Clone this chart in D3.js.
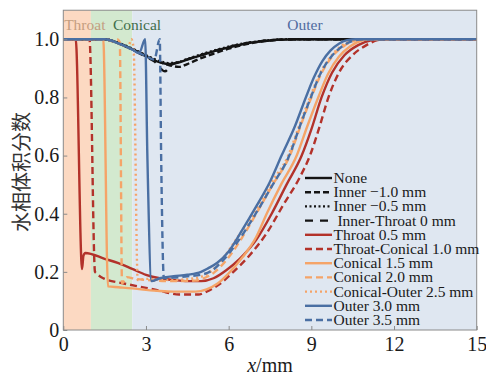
<!DOCTYPE html>
<html>
<head>
<meta charset="utf-8">
<script src="https://cdn.jsdelivr.net/npm/d3@7"></script>
<style>
html,body{margin:0;padding:0;background:#fff;}
svg{display:block;}
.serif{font-family:"Liberation Serif","Tinos","Times New Roman","DejaVu Serif",serif;}
</style>
</head>
<body>
<svg id="chart" width="486" height="378"></svg>
<script>
// ---------------- DATA ----------------
const xTicks = [0, 3, 6, 9, 12, 15];
const yTicks = [0, 0.2, 0.4, 0.6, 0.8, 1.0];
const yTickLabels = ["0", "0.2", "0.4", "0.6", "0.8", "1.0"];
const regionNames = ["Throat", "Conical", "Outer"];
const regionBounds = [[0, 1], [1, 2.5], [2.5, 15]];
const seriesNames = ["None", "Inner \u22121.0 mm", "Inner \u22120.5 mm", " Inner-Throat 0 mm",
  "Throat 0.5 mm", "Throat-Conical 1.0 mm", "Conical 1.5 mm", "Conical 2.0 mm",
  "Conical-Outer 2.5 mm", "Outer 3.0 mm", "Outer 3.5 mm"];

const none = [[0,1],[1.5,1],[2,0.987],[2.5,0.966],[3,0.943],[3.3,0.928],[3.6,0.918],[3.8,0.915],[4.1,0.918],[4.5,0.93],[5,0.945],[5.5,0.96],[6,0.972],[6.5,0.983],[7,0.991],[7.5,0.996],[8,0.999],[8.5,1],[15,1]];
const inner10 = [[0,1],[1.5,1],[2,0.986],[2.5,0.965],[3,0.942],[3.5,0.922],[3.8,0.912],[4.2,0.905],[4.5,0.915],[5,0.935],[5.5,0.952],[6,0.968],[6.5,0.98],[7,0.99],[7.5,0.996],[8,0.999],[8.5,1],[15,1]];
const inner05 = [[0,1],[1.5,1],[2,0.988],[2.5,0.968],[3,0.945],[3.5,0.925],[3.8,0.918],[4.1,0.92],[4.5,0.932],[5,0.948],[5.5,0.962],[6,0.975],[6.5,0.985],[7,0.992],[7.5,0.997],[8,1],[15,1]];
const innerThroat0 = [[0,1],[1.5,1],[2,0.986],[2.5,0.965],[3,0.94],[3.3,0.924],[3.69,0.89],[3.9,0.91],[4.3,0.925],[4.8,0.94],[5.3,0.955],[5.8,0.968],[6.3,0.98],[6.8,0.989],[7.3,0.995],[7.8,0.999],[8.3,1],[15,1]];
const throat05 = [[0,1],[0.45,1],[0.68,0.21],[0.73,0.255],[0.8,0.265],[1.5,0.245],[2,0.23],[2.5,0.21],[3,0.19],[3.5,0.178],[4,0.172],[4.5,0.168],[5,0.168],[5.45,0.178],[5.9,0.205],[6.4,0.245],[7,0.31],[7.56,0.4],[8.1,0.5],[8.65,0.6],[9,0.69],[9.37,0.8],[9.75,0.885],[10.2,0.945],[10.7,0.98],[11.2,0.997],[11.5,1],[15,1]];
const throatConical10 = [[0,1],[0.95,1],[1.15,0.2],[1.2,0.195],[1.45,0.178],[2.2,0.16],[3,0.145],[3.5,0.135],[4.2,0.122],[4.9,0.122],[5.2,0.132],[5.7,0.16],[6.17,0.2],[6.77,0.258],[7.38,0.333],[7.98,0.43],[8.59,0.527],[8.95,0.6],[9.3,0.7],[9.62,0.8],[10,0.885],[10.5,0.946],[11,0.98],[11.4,0.997],[11.7,1],[15,1]];
const conical15 = [[0,1],[1.45,1],[1.62,0.15],[2,0.147],[2.5,0.143],[3,0.138],[3.5,0.134],[4,0.132],[4.8,0.132],[5.2,0.14],[5.6,0.16],[6,0.195],[6.5,0.25],[7,0.32],[7.38,0.4],[7.9,0.5],[8.47,0.6],[8.85,0.7],[9.25,0.8],[9.6,0.88],[10,0.94],[10.4,0.975],[10.8,0.995],[11.1,1],[15,1]];
const conical20 = [[0,1],[1.5,1],[1.85,0.992],[1.95,1],[2.05,0.99],[2.13,0.16],[2.2,0.168],[2.3,0.182],[2.6,0.176],[3,0.172],[4,0.168],[4.8,0.17],[5.1,0.178],[5.5,0.2],[6,0.25],[6.5,0.32],[7,0.4],[7.6,0.5],[8.22,0.6],[8.6,0.7],[9,0.8],[9.35,0.88],[9.75,0.94],[10.2,0.978],[10.6,0.996],[10.9,1],[15,1]];
const conicalOuter25 = [[0,1],[1.5,1],[2,0.986],[2.35,0.972],[2.47,1],[2.55,0.97],[2.7,0.172],[3,0.176],[3.5,0.173],[4,0.172],[4.5,0.175],[5,0.183],[5.4,0.205],[5.9,0.26],[6.4,0.33],[6.92,0.4],[7.5,0.5],[8.16,0.6],[8.55,0.7],[8.95,0.8],[9.3,0.88],[9.7,0.94],[10.1,0.978],[10.5,0.996],[10.8,1],[15,1]];
const outer30 = [[0,1],[1.5,1],[2,0.986],[2.5,0.965],[2.75,0.952],[2.97,1],[3.05,0.6],[3.2,0.168],[3.5,0.178],[4,0.185],[4.5,0.19],[5,0.2],[5.25,0.212],[5.6,0.232],[6,0.27],[6.5,0.345],[7,0.425],[7.5,0.51],[7.92,0.6],[8.4,0.7],[8.8,0.8],[9.1,0.87],[9.4,0.925],[9.7,0.962],[10,0.985],[10.3,0.997],[10.6,1],[15,1]];
const outer35 = [[0,1],[1.5,1],[2,0.986],[2.5,0.965],[3,0.942],[3.3,0.93],[3.5,1],[3.55,0.6],[3.65,0.178],[4,0.18],[4.5,0.185],[5,0.19],[5.4,0.205],[5.8,0.24],[6.3,0.3],[6.98,0.4],[7.6,0.5],[8.2,0.6],[8.58,0.7],[8.98,0.8],[9.32,0.88],[9.72,0.94],[10.15,0.978],[10.55,0.996],[10.85,1],[15,1]];

const seriesData = [none, inner10, inner05, innerThroat0, throat05, throatConical10,
  conical15, conical20, conicalOuter25, outer30, outer35];

// ---------------- STYLES ----------------
const BLACK = "#141414", RED = "#b3322a", ORANGE = "#f5a468", BLUE = "#4a6fa3";
const seriesColors = [BLACK, BLACK, BLACK, BLACK, RED, RED, ORANGE, ORANGE, ORANGE, BLUE, BLUE];
const seriesDash = [null, "6,3", "2,2.5", "8,7", null, "7,4", null, "7,4", "2,3", null, "7,4"];
const regionFills = ["#fcd9c2", "#d3e9cf", "#dfe7f1"];
const regionTextColors = ["#c49e80", "#3f6e4b", "#4f6b9f"];

const svg = d3.select("#chart");
const W = 486, H = 378;
const margin = {left: 63.3, right: W - 476.7, top: 10.2, bottom: H - 330};
const x = d3.scaleLinear().domain([0, 15]).range([margin.left, W - margin.right]);
const y = d3.scaleLinear().domain([0, 1.1]).range([H - margin.bottom, H - margin.bottom - 1.1 * 290.7]);

// regions
svg.append("g").selectAll("rect").data(regionBounds).join("rect")
  .attr("x", d => x(d[0])).attr("width", d => x(d[1]) - x(d[0]))
  .attr("y", y(1.1)).attr("height", y(0) - y(1.1))
  .attr("fill", (d, i) => regionFills[i]);

// region labels
const labelPos = [[0.03, "start"], [1.8, "start"], [8.77, "middle"]];
svg.append("g").selectAll("text").data(regionNames).join("text")
  .attr("class", "serif")
  .attr("x", (d, i) => x(labelPos[i][0]))
  .attr("y", 30)
  .attr("text-anchor", (d, i) => labelPos[i][1])
  .attr("font-size", 15.5)
  .attr("fill", (d, i) => regionTextColors[i])
  .text(d => d);

// lines
const line = d3.line().x(d => x(d[0])).y(d => y(d[1])).curve(d3.curveMonotoneX);
const plot = svg.append("g");
plot.append("clipPath").attr("id", "clip").append("rect")
  .attr("x", x(0)).attr("y", y(1.1)).attr("width", x(15) - x(0)).attr("height", y(0) - y(1.1));
plot.append("g").attr("clip-path", "url(#clip)")
  .selectAll("path").data(seriesData).join("path")
  .attr("d", line)
  .attr("fill", "none")
  .attr("stroke", (d, i) => seriesColors[i])
  .attr("stroke-width", 2.4)
  .attr("stroke-dasharray", (d, i) => seriesDash[i])
  .attr("stroke-linejoin", "round");

// axes
const frameColor = "#8a8a8a";
const xAxis = svg.append("g").attr("transform", `translate(0,${y(0)})`)
  .call(d3.axisBottom(x).tickValues(xTicks).tickFormat(d3.format("d")).tickSizeInner(-4).tickSizeOuter(0).tickPadding(7));
const yAxis = svg.append("g").attr("transform", `translate(${x(0)},0)`)
  .call(d3.axisLeft(y).tickValues(yTicks).tickFormat((d, i) => yTickLabels[i]).tickSizeInner(-4).tickSizeOuter(0).tickPadding(4));
[xAxis, yAxis].forEach(g => {
  g.attr("font-family", null).attr("font-size", null);
  g.select(".domain").remove();
  g.selectAll(".tick line").attr("stroke", frameColor);
  g.selectAll(".tick text").attr("class", "serif").attr("font-size", 20).attr("fill", "#1a1a1a");
});

// frame
svg.append("rect").attr("x", x(0)).attr("y", y(1.1))
  .attr("width", x(15) - x(0)).attr("height", y(0) - y(1.1))
  .attr("fill", "none").attr("stroke", frameColor).attr("stroke-width", 1);

// axis titles
const xt = svg.append("text").attr("class", "serif").attr("x", (x(0) + x(15)) / 2).attr("y", 372)
  .attr("text-anchor", "middle").attr("font-size", 20).attr("fill", "#1a1a1a");
xt.append("tspan").attr("font-style", "italic").text("x");
xt.append("tspan").text("/mm");

svg.append("text")
  .attr("transform", `translate(29,${(y(0) + y(1.1)) / 2 + 2}) rotate(-90)`)
  .attr("text-anchor", "middle")
  .style("font-family", "'Noto Sans CJK SC','Noto Sans CJK JP',sans-serif")
  .attr("font-size", 20).attr("fill", "#333")
  .text("水相体积分数");

// legend
const lg = svg.append("g");
const lgX0 = 305, lgX1 = 332, lgY0 = 178, lgDy = 14.2;
seriesNames.forEach((name, i) => {
  const cy = lgY0 + i * lgDy;
  lg.append("line").attr("x1", lgX0).attr("x2", lgX1).attr("y1", cy).attr("y2", cy)
    .attr("stroke", seriesColors[i]).attr("stroke-width", 2.4)
    .attr("stroke-dasharray", seriesDash[i]);
  lg.append("text").attr("class", "serif").attr("x", lgX1 + 1.5).attr("y", cy + 5)
    .attr("font-size", 15.5).attr("fill", "#1a1a1a")
    .style("white-space", "pre")
    .text(name);
});
</script>
</body>
</html>
